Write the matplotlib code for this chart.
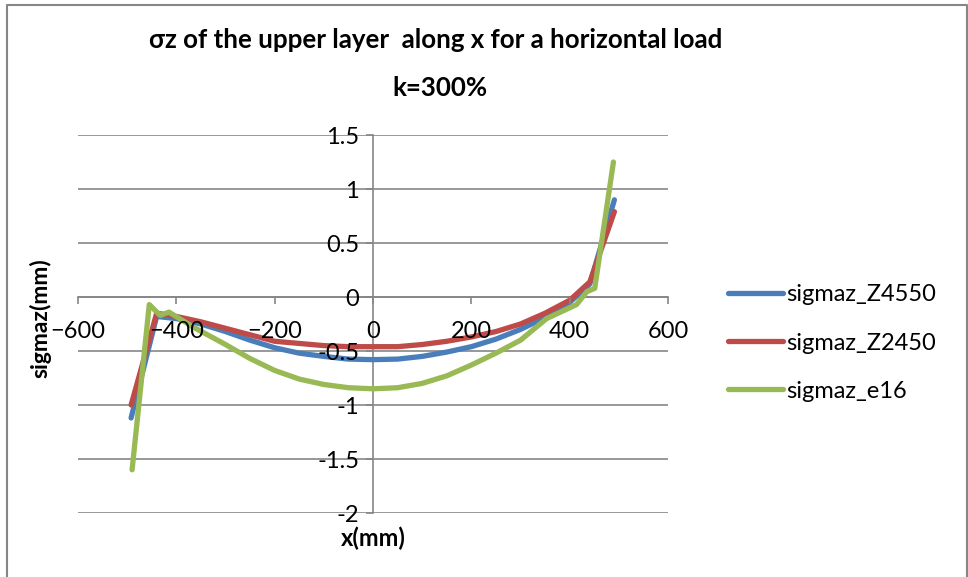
import matplotlib.pyplot as plt
from matplotlib.lines import Line2D

plt.rcParams['font.family'] = ['Lato', 'DejaVu Sans']

# Data
x_z = [-492, -440, -400, -350, -300, -250, -200, -150, -100, -50, 0,
       50, 100, 150, 200, 250, 300, 350, 400, 441, 491]
sigmaz_Z4550 = [-1.12, -0.18, -0.20, -0.25, -0.32, -0.40, -0.47, -0.52, -0.55, -0.575, -0.58,
                -0.575, -0.55, -0.51, -0.46, -0.39, -0.30, -0.19, -0.05, 0.12, 0.90]
sigmaz_Z2450 = [-1.00, -0.15, -0.18, -0.23, -0.29, -0.35, -0.41, -0.43, -0.45, -0.46, -0.46,
                -0.46, -0.44, -0.41, -0.37, -0.32, -0.25, -0.15, -0.03, 0.14, 0.79]

x_e16 = [-490, -455, -433, -415, -365, -300, -250, -200, -150, -100, -50, 0,
         50, 100, 150, 200, 250, 300, 353, 414, 435, 451, 489]
sigmaz_e16 = [-1.60, -0.07, -0.17, -0.14, -0.28, -0.44, -0.57, -0.68, -0.76, -0.81, -0.84, -0.85,
              -0.84, -0.80, -0.73, -0.63, -0.52, -0.40, -0.20, -0.07, 0.05, 0.08, 1.25]

xticks = [-600, -400, -200, 0, 200, 400, 600]
yticks = [-2, -1.5, -1, -0.5, 0, 0.5, 1, 1.5]
ytick_labels = ['-2', '-1.5', '-1', '-0.5', '0', '0.5', '1', '1.5']

W, H = 968, 577
fig = plt.figure(figsize=(W / 100, H / 100), dpi=100)
ax = fig.add_axes([78 / W, 1 - 513 / H, 590 / W, 378 / H])

grey = '#868686'
blue = '#4a7ebb'
red = '#be4b48'
green = '#98b954'

# gridlines behind the curves, tick labels in front
for yv in yticks:
    ax.axhline(yv, color=grey, lw=1.2, zorder=0.5)

ax.plot(x_z, sigmaz_Z4550, color=blue, lw=3.8, label='sigmaz_Z4550', solid_capstyle='round', zorder=2)
ax.plot(x_z, sigmaz_Z2450, color=red, lw=3.8, label='sigmaz_Z2450', solid_capstyle='round', zorder=2)
ax.plot(x_e16, sigmaz_e16, color=green, lw=3.8, label='sigmaz_e16', solid_capstyle='round', zorder=2)

ax.set_xlim(-600, 600)
ax.set_ylim(-2, 1.5)
ax.set_xticks(xticks)
ax.set_yticks(yticks)
ax.set_yticklabels(ytick_labels)
ax.set_axisbelow(False)

for s in ['top', 'right']:
    ax.spines[s].set_visible(False)
for s in ['left', 'bottom']:
    ax.spines[s].set_position(('data', 0))
    ax.spines[s].set_color(grey)
    ax.spines[s].set_linewidth(1.2)
    ax.spines[s].set_zorder(1)

ax.tick_params(axis='x', direction='out', length=5, color=grey, width=1.2,
               labelsize=17, pad=12)
ax.tick_params(axis='y', direction='out', length=5, color=grey, width=1.2,
               labelsize=17, pad=5)

fig.text(373 / W, 1 - 538 / H, 'x(mm)', fontsize=17, fontweight='bold', ha='center', va='center')
fig.text(40 / W, 1 - 318 / H, 'sigmaz(mm)', fontsize=16.5, fontweight='bold',
         rotation=90, ha='center', va='center')

fig.text(436 / W, 1 - 40 / H, 'σz of the upper layer  along x for a horizontal load',
         fontsize=18.6, fontweight='bold', ha='center', va='center')
fig.text(440 / W, 1 - 88 / H, 'k=300%', fontsize=18.6, fontweight='bold', ha='center', va='center')

fig.legend(loc='center left', bbox_to_anchor=(707 / W, 1 - 343 / H), frameon=False,
           fontsize=17, handlelength=2.3, handletextpad=0.15, labelspacing=1.15)

# outer chart border
fig.add_artist(Line2D([7 / W, 7 / W, 967 / W, 967 / W], [0, 1 - 4.5 / H, 1 - 4.5 / H, 0],
                      color=grey, lw=1.5))

fig.savefig('out.png', dpi=100)
